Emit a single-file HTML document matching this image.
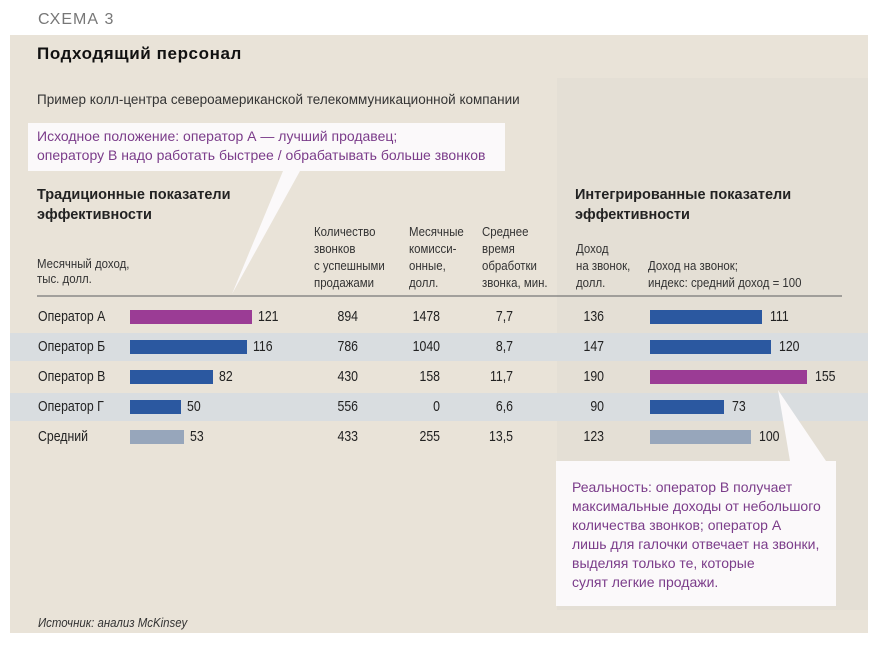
<!DOCTYPE html>
<html><head><meta charset="utf-8">
<style>
body{margin:0;width:880px;height:646px;background:#fff;position:relative;overflow:hidden;font-family:"Liberation Sans","DejaVu Sans",sans-serif;color:#222}
.a{position:absolute;white-space:nowrap}
.n{font-size:13px;line-height:15px;color:#333;transform:scaleX(.88);transform-origin:left top}
.v{font-size:15px;color:#222;transform:scaleX(.82);transform-origin:left center}
</style></head><body>
<div class="a" style="left:38px;top:11px;font-size:16px;color:#777;letter-spacing:1px">СХЕМА 3</div>
<div class="a" style="left:10px;top:35px;width:858px;height:598px;background:#e9e3d8"></div>
<div class="a" style="left:557px;top:78px;width:311px;height:532px;background:#e4dfd5"></div>
<div class="a" style="left:37px;top:44px;font-size:17px;font-weight:bold;color:#111;letter-spacing:0.6px">Подходящий персонал</div>
<div class="a" style="left:37px;top:92px;font-size:13.5px;color:#333">Пример колл-центра североамериканской телекоммуникационной компании</div>
<svg class="a" style="left:0;top:0" width="880" height="646">
<rect x="10" y="333" width="858" height="28" fill="#d9dde0"/>
<rect x="10" y="393" width="858" height="28" fill="#d9dde0"/>
<line x1="37" y1="296" x2="842" y2="296" stroke="#777" stroke-width="1.2"/>
<polygon points="28,123 505,123 505,171 300,171 232,294 283,171 28,171" fill="#fbf9fa"/>
<polygon points="556,461 790,461 778,390 826,461 836,461 836,606 556,606" fill="#fbf9fa"/>
</svg>
<div class="a" style="left:37px;top:127px;font-size:14px;line-height:19px;color:#7b3c8a">Исходное положение: оператор А — лучший продавец;<br>оператору В надо работать быстрее / обрабатывать больше звонков</div>
<div class="a" style="left:37px;top:185px;font-size:14.5px;line-height:20px;font-weight:bold;color:#222">Традиционные показатели<br>эффективности</div>
<div class="a" style="left:575px;top:185px;font-size:14.5px;line-height:20px;font-weight:bold;color:#222">Интегрированные показатели<br>эффективности</div>
<div class="a n" style="left:37px;top:256px">Месячный доход,<br>тыс. долл.</div>
<div class="a n" style="left:314px;top:223px;line-height:17px">Количество<br>звонков<br>с успешными<br>продажами</div>
<div class="a n" style="left:409px;top:223px;line-height:17px">Месячные<br>комисси-<br>онные,<br>долл.</div>
<div class="a n" style="left:482px;top:223px;line-height:17px">Среднее<br>время<br>обработки<br>звонка, мин.</div>
<div class="a n" style="left:576px;top:240px;line-height:17px">Доход<br>на звонок,<br>долл.</div>
<div class="a n" style="left:648px;top:257px;line-height:17px">Доход на звонок;<br>индекс: средний доход = 100</div>
<div id="rows"></div>
<div class="a" style="left:572px;top:478px;font-size:14px;line-height:19px;color:#7b3c8a">Реальность: оператор В получает<br>максимальные доходы от небольшого<br>количества звонков; оператор А<br>лишь для галочки отвечает на звонки,<br>выделяя только те, которые<br>сулят легкие продажи.</div>
<div class="a n" style="left:38px;top:615px;font-style:italic">Источник: анализ McKinsey</div>
<script>
const operators=["Оператор А","Оператор Б","Оператор В","Оператор Г","Средний"];
const revenue=[121,116,82,50,53];
const calls=[894,786,430,556,433];
const commission=[1478,1040,158,0,255];
const handleTime=["7,7","8,7","11,7","6,6","13,5"];
const revPerCall=[136,147,190,90,123];
const revIndex=[111,120,155,73,100];
const highlightLeft=[true,false,false,false,false];
const highlightRight=[false,false,true,false,false];
const root=document.getElementById('rows');
const xL=v=>v*1.01, xR=v=>v*1.01;
const rowY=i=>317+i*30;
function txt(name,x,y,s,align){
  const d=document.createElement('div');
  d.className='a v';
  
  
  d.textContent=s;
  d.style.top=(y-9)+'px';
  if(align==='r'){d.style.left=(x-60)+'px';d.style.width='60px';d.style.textAlign='right';d.style.transformOrigin='right center';}
  else d.style.left=x+'px';
  root.appendChild(d);
}
function bar(name,x,y,w,col){
  const d=document.createElement('div');
  d.className='a';
  
  
  d.style.cssText=`left:${x}px;top:${y-7}px;width:${w}px;height:14px;background:${col}`;
  root.appendChild(d);
}
operators.forEach((op,i)=>{
  const y=rowY(i);
  txt('operator-label',38,y,op);
  const cL=i===4?'#97a6bb':(highlightLeft[i]?'#9b3c95':'#2b58a0');
  bar('revenue-bar',130,y,xL(revenue[i]),cL);
  txt('revenue-value',130+xL(revenue[i])+6,y,String(revenue[i]));
  txt('calls-value',358,y,String(calls[i]),'r');
  txt('commission-value',440,y,String(commission[i]),'r');
  txt('handle-time-value',513,y,handleTime[i],'r');
  txt('rev-per-call-value',604,y,String(revPerCall[i]),'r');
  const cR=i===4?'#97a6bb':(highlightRight[i]?'#9b3c95':'#2b58a0');
  bar('index-bar',650,y,xR(revIndex[i]),cR);
  txt('index-value',650+xR(revIndex[i])+8,y,String(revIndex[i]));
});
</script>
</body></html>
